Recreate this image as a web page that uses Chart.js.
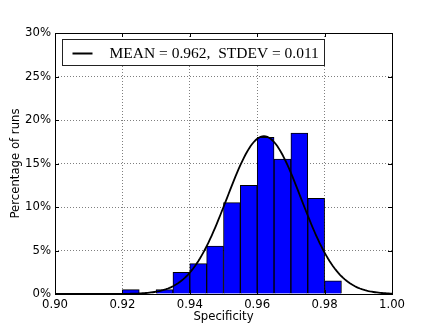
<!DOCTYPE html>
<html>
<head>
<meta charset="utf-8">
<script src="https://cdn.jsdelivr.net/npm/chart.js@4"></script>
<style>
html, body { margin: 0; padding: 0; background: #fff; }
</style>
</head>
<body>
<canvas id="histChart" width="436" height="327"></canvas>
<script>
// histogram bins (left edge) and percentage of runs in each bin
const binStarts = [0.920, 0.930, 0.935, 0.940, 0.945, 0.950, 0.955, 0.960, 0.965, 0.970, 0.975, 0.980];
const binPercents = [0.5, 0.5, 2.5, 3.5, 5.5, 10.5, 12.5, 18, 15.5, 18.5, 11, 1.5];
const binWidth = 0.005;

// fitted normal shown in the legend
const MEAN = 0.962;
const STDEV = 0.011;
const legendLabel = 'MEAN = 0.962,  STDEV = 0.011';

const xTicks = [0.90, 0.92, 0.94, 0.96, 0.98, 1.00];
const yTicks = [0, 5, 10, 15, 20, 25, 30];

const barPoints = binStarts.map((s, i) => ({ x: s + binWidth / 2, y: binPercents[i] }));

// normal density scaled to percent per bin
const curvePoints = [];
for (let i = 0; i <= 200; i++) {
    const x = 0.90 + i * 0.0005;
    const z = (x - MEAN) / STDEV;
    const pdf = Math.exp(-0.5 * z * z) / (STDEV * Math.sqrt(2 * Math.PI));
    curvePoints.push({ x: x, y: pdf * binWidth * 100 });
}

const frameAndLegend = {
    id: 'frameAndLegend',
    afterDraw(chart) {
        const ctx = chart.ctx;
        const a = chart.chartArea;
        const xs = chart.scales.x, ys = chart.scales.y;
        ctx.save();
        ctx.strokeStyle = '#000';
        ctx.lineWidth = 1;
        ctx.beginPath();
        xTicks.forEach(v => {
            const px = Math.round(xs.getPixelForValue(v)) + 0.5;
            ctx.moveTo(px, a.bottom); ctx.lineTo(px, a.bottom - 4);
            ctx.moveTo(px, a.top); ctx.lineTo(px, a.top + 4);
        });
        yTicks.forEach(v => {
            const py = Math.round(ys.getPixelForValue(v)) + 0.5;
            ctx.moveTo(a.left, py); ctx.lineTo(a.left + 4, py);
            ctx.moveTo(a.right, py); ctx.lineTo(a.right - 4, py);
        });
        ctx.stroke();
        ctx.strokeRect(Math.round(a.left) + 0.5, Math.round(a.top) + 0.5,
            Math.round(a.right - a.left), Math.round(a.bottom - a.top));

        // legend box
        const bx = a.left + 7.5, by = a.top + 6.5, bw = 262, bh = 26;
        ctx.fillStyle = '#fff';
        ctx.fillRect(bx, by, bw, bh);
        ctx.strokeStyle = '#222';
        ctx.strokeRect(bx, by, bw, bh);
        ctx.strokeStyle = '#000';
        ctx.lineWidth = 2;
        ctx.beginPath();
        ctx.moveTo(bx + 10, by + 14); ctx.lineTo(bx + 30, by + 14);
        ctx.stroke();
        ctx.fillStyle = '#000';
        ctx.font = '15.5px "Liberation Serif"';
        ctx.textBaseline = 'middle';
        ctx.fillText(legendLabel, bx + 47, by + 14);
        ctx.restore();
    }
};

const ctxHist = document.getElementById('histChart').getContext('2d');
const histChart = new Chart(ctxHist, {
    type: 'bar',
    data: {
        datasets: [{
            type: 'line',
            label: legendLabel,
            data: curvePoints,
            borderColor: '#000',
            borderWidth: 1.8,
            pointRadius: 0,
            fill: false,
            order: 0
        }, {
            type: 'bar',
            label: 'runs',
            data: barPoints,
            backgroundColor: '#0000ff',
            borderColor: '#000',
            borderWidth: 1,
            barPercentage: 1,
            categoryPercentage: 1,
            order: 1
        }]
    },
    options: {
        responsive: false,
        animation: false,
        layout: { padding: { left: 0, top: 33, right: 44, bottom: 0 } },
        plugins: {
            legend: { display: false },
            tooltip: { enabled: false }
        },
        scales: {
            x: {
                type: 'linear',
                min: 0.90,
                max: 1.00,
                offset: false,
                afterFit(scale) { scale.height = 33; },
                afterBuildTicks(scale) { scale.ticks = xTicks.map(v => ({ value: v })); },
                grid: { offset: false, drawTicks: false, color: 'rgba(0,0,0,0.5)', lineWidth: 1 },
                border: { display: false, dash: [1, 2] },
                ticks: {
                    padding: 4,
                    color: '#000',
                    font: { family: 'DejaVu Sans', size: 11.7 },
                    maxRotation: 0,
                    callback: v => v.toFixed(2)
                },
                title: {
                    display: true,
                    text: 'Specificity',
                    color: '#000',
                    font: { family: 'DejaVu Sans', size: 11.7 },
                    padding: { top: 0, bottom: 3 }
                }
            },
            y: {
                min: 0,
                max: 30,
                afterFit(scale) { scale.width = 55; },
                afterBuildTicks(scale) { scale.ticks = yTicks.map(v => ({ value: v })); },
                grid: { drawTicks: false, color: 'rgba(0,0,0,0.5)', lineWidth: 1 },
                border: { display: false, dash: [1, 2] },
                ticks: {
                    padding: 4,
                    color: '#000',
                    font: { family: 'DejaVu Sans', size: 11.7 },
                    callback: v => v + '%'
                },
                title: {
                    display: true,
                    text: 'Percentage of runs',
                    color: '#000',
                    font: { family: 'DejaVu Sans', size: 11.7 },
                    padding: { top: 9, bottom: 9 }
                }
            }
        }
    },
    plugins: [frameAndLegend]
});
</script>
</body>
</html>
